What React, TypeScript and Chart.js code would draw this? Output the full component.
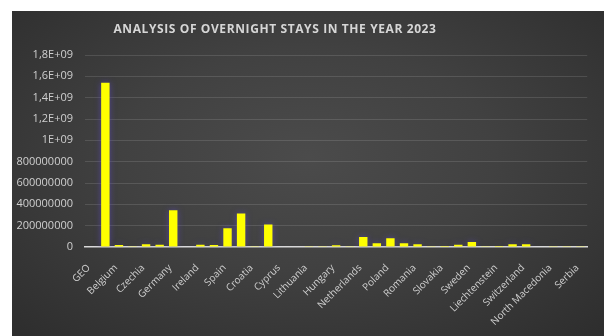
import React, { useEffect, useRef } from "react";
import { Chart, registerables } from "chart.js";

Chart.register(...registerables);

const categories = [
  "GEO", "EU27_2020", "Belgium", "Bulgaria", "Czechia", "Denmark", "Germany", "Estonia",
  "Ireland", "Greece", "Spain", "France", "Croatia", "Italy", "Cyprus", "Latvia",
  "Lithuania", "Luxembourg", "Hungary", "Malta", "Netherlands", "Austria", "Poland",
  "Portugal", "Romania", "Slovenia", "Slovakia", "Finland", "Sweden", "Iceland",
  "Liechtenstein", "Norway", "Switzerland", "Montenegro", "North Macedonia", "Albania", "Serbia",
];

const nights = [
  null, 1540000000, 18000000, 6000000, 25000000, 20000000, 344000000, 5000000,
  20000000, 18000000, 175000000, 313000000, 6000000, 210000000, 5000000, 4000000,
  6000000, 3000000, 16000000, 7000000, 94000000, 35000000, 83000000,
  35000000, 25000000, 8000000, 9000000, 20000000, 46000000, 6000000,
  200000, 26000000, 26000000, 4000000, 2000000, 3000000, 8000000,
];

const yTickLabels = [
  "0", "200000000", "400000000", "600000000", "800000000",
  "1E+09", "1,2E+09", "1,4E+09", "1,6E+09", "1,8E+09",
];

const titleText = "ANALYSIS OF OVERNIGHT STAYS IN THE YEAR 2023";

export default function App() {
  const ref = useRef<HTMLCanvasElement | null>(null);

  useEffect(() => {
    if (!ref.current) return;
    const titlePlugin = {
      id: "customTitle",
      afterDraw(chart: any) {
        const ctx = chart.ctx;
        ctx.save();
        ctx.font = 'bold 12px "Open Sans"';
        (ctx as any).letterSpacing = "0.6px";
        ctx.fillStyle = "#d6d6d6";
        ctx.textAlign = "center";
        ctx.textBaseline = "middle";
        ctx.fillText(titleText, 263, 19);
        ctx.restore();
      },
    };
    const glowPlugin = {
      id: "glow",
      beforeDatasetsDraw(chart: any) {
        const ctx = chart.ctx;
        ctx.save();
        ctx.shadowColor = "rgba(90,70,190,0.7)";
        ctx.shadowBlur = 6;
      },
      afterDatasetsDraw(chart: any) {
        chart.ctx.restore();
      },
    };
    const chart = new Chart(ref.current, {
      type: "bar",
      data: {
        labels: categories,
        datasets: [
          {
            data: nights as any,
            backgroundColor: "#ffff00",
            borderWidth: 0,
            categoryPercentage: 1,
            barPercentage: 0.62,
          },
        ],
      },
      options: {
        responsive: false,
        animation: false,
        layout: { padding: { left: 0, right: 5, top: 44, bottom: 0 } },
        plugins: {
          legend: { display: false },
          title: { display: false },
          tooltip: { enabled: false },
        },
        scales: {
          x: {
            grid: { display: false, drawTicks: false },
            border: { display: true, color: "#d9d9d9", width: 1.5 },
            ticks: {
              autoSkip: false,
              minRotation: 45,
              maxRotation: 45,
              padding: 15,
              labelOffset: -3,
              color: "#cfcfcf",
              font: { family: "Open Sans", size: 10 },
              callback: (v: any, i: number) => (i % 2 === 0 ? categories[i] : ""),
            },
            afterFit: (s: any) => {
              s.height = 89;
            },
          },
          y: {
            min: 0,
            max: 1800000000,
            ticks: {
              stepSize: 200000000,
              padding: 12,
              color: "#cfcfcf",
              font: { family: "Open Sans", size: 11 },
              callback: (v: any, i: number) => yTickLabels[i],
            },
            grid: {
              drawTicks: false,
              color: (c: any) => (c.index === 0 ? "rgba(0,0,0,0)" : "rgba(255,255,255,0.12)"),
              lineWidth: 1,
            },
            border: { display: false },
            afterFit: (s: any) => {
              s.width = 73;
            },
          },
        },
      },
      plugins: [titlePlugin, glowPlugin],
    });
    return () => chart.destroy();
  }, []);

  return (
    <div
      style={{
        position: "fixed",
        left: 12,
        top: 11,
        width: 592,
        height: 325,
        background:
          "radial-gradient(ellipse 70% 75% at 50% 45%, #4b4b4b 0%, #414141 45%, #2e2e2e 100%)",
      }}
    >
      <canvas ref={ref} width={592} height={325} style={{ display: "block" }} />
    </div>
  );
}
